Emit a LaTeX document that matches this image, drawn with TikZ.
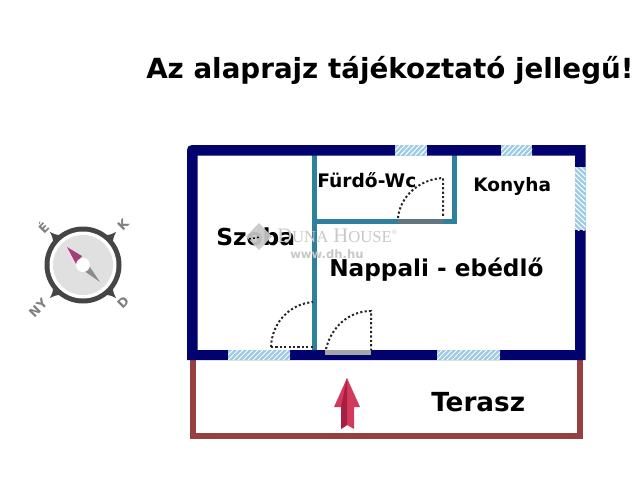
\documentclass[tikz,border=0pt]{standalone}
\usepackage{fontspec}
\setmainfont{DejaVu Sans}
\newfontfamily\duna{Liberation Serif}
\definecolor{wallblue}{HTML}{02026E}
\definecolor{inner}{HTML}{2F7F9E}
\definecolor{winblue}{HTML}{9CCBE3}
\definecolor{terr}{HTML}{96403F}
\definecolor{arrowred}{HTML}{D23A5C}
\definecolor{arrowdark}{HTML}{A81F44}
\definecolor{compd}{HTML}{454545}
\definecolor{compl}{HTML}{E0E0E0}
\definecolor{wm}{HTML}{C8C8C8}
\tikzset{
  wall/.style={fill=wallblue,draw=none},
  innerwall/.style={fill=inner,draw=none},
  win/.style={fill=winblue,draw=none},
  winhatch/.style={draw=white,line width=0.75pt},
  doorline/.style={draw=black!85,line width=1.5pt,dash pattern=on 1.6pt off 1.7pt},
  label/.style={font=\bfseries,text=black,inner sep=0pt,anchor=base west},
  complabel/.style={font=\bfseries\fontsize{9.5}{11}\selectfont,text=black!50,inner sep=0pt},
  wmtext/.style={text=wm,inner sep=0pt},
}
\newcommand{\winh}[4]{%
  \fill[win] (#1,#2) rectangle (#3,#4);
  \begin{scope}
    \clip (#1,#2) rectangle (#3,#4);
    \foreach \k in {-20,-15,...,80}{
      \draw[winhatch] ({#1+\k},#4) -- ({#1+\k+10},#2);
    }
  \end{scope}}
\newcommand{\winv}[4]{%
  \fill[win] (#1,#2) rectangle (#3,#4);
  \begin{scope}
    \clip (#1,#2) rectangle (#3,#4);
    \foreach \k in {-20,-15,...,90}{
      \draw[winhatch] (#1,{#2+\k}) -- (#3,{#2+\k+10});
    }
  \end{scope}}
\begin{document}
\begin{tikzpicture}[x=0.75pt,y=-0.75pt]
\useasboundingbox[fill=white] (0,0) rectangle (640,480);
% title
\node[label,font=\bfseries\fontsize{20.8}{24}\selectfont] (title) at (146,78) {Az alaprajz tájékoztató jellegű!};
% terrace
\fill[terr] (190,358) rectangle (195.5,438.5);
\fill[terr] (190,432.5) rectangle (582.5,438.5);
\fill[terr] (577,358) rectangle (582.5,438.5);
% inner walls
\fill[innerwall] (312,153) rectangle (316.5,352);
\fill[innerwall] (312,218.5) rectangle (457,223.5);
\fill[innerwall] (451.5,153) rectangle (456.5,223.5);
\fill[black!55,opacity=.75] (398,218.5) rectangle (443,223.5);
% outer walls
\fill[wall,even odd rule] (192,145) -- (585.5,145) -- (585.5,360) -- (187,360) -- (187,150) .. controls (187,147) and (189,145) .. (192,145) -- cycle
  (197.5,155.5) -- (197.5,350) -- (575,350) -- (575,155.5) -- cycle;
% windows
\winh{395}{145}{427}{155.5}
\winh{501}{145}{532}{155.5}
\winv{575}{167}{585.5}{230}
\winh{228}{350}{290}{360}
\winh{437}{350}{500}{360}
% doors
\fill[black!35] (325,350) rectangle (371,355);
\draw[doorline] (398,218) .. controls (400,196) and (420,179) .. (443,178) -- (443,218);
\draw[doorline] (271,347) .. controls (272,322) and (290,304) .. (313,302);
\draw[doorline] (271,347) -- (313,347);
\draw[doorline] (326,349) .. controls (331,328) and (348,311) .. (371,311) -- (371,350);
% labels and watermark
\node[label,font=\bfseries\fontsize{17.5}{21}\selectfont] (szoba) at (216,245) {Szoba};
\fill[wm,opacity=.92] (259,223) -- (272,236.5) -- (259,250) -- (246,236.5) -- cycle;
\draw[black,line width=1.1pt,dash pattern=on 1.4pt off 1.6pt] (249,239) -- (260,237);
\node[wmtext,anchor=base west,font=\duna\fontsize{15.5}{17}\selectfont] (wmname) at (277,242) {D{\fontsize{12.5}{14}\selectfont UNA} H{\fontsize{12.5}{14}\selectfont OUSE}\raisebox{6pt}{\fontsize{5}{6}\selectfont ®}};
\node[wmtext,anchor=base west,font=\bfseries\fontsize{8.7}{10}\selectfont] (wmurl) at (290,258) {www.dh.hu};
\node[label,font=\bfseries\fontsize{14}{17}\selectfont] (furdo) at (317,187) {Fürdő-Wc};
\node[label,font=\bfseries\fontsize{13.9}{17}\selectfont] (konyha) at (473,191) {Konyha};
\node[label,font=\bfseries\fontsize{17.4}{21}\selectfont] (nappali) at (329,276) {Nappali - ebédlő};
\node[label,font=\bfseries\fontsize{19.7}{23}\selectfont] (terasz) at (431,411) {Terasz};
% entrance arrow
\fill[arrowred] (347,378) -- (360,407) -- (354,407) -- (354,429) -- (347,425) -- (341,429) -- (341,407) -- (334,407) -- cycle;
\fill[arrowdark] (347,378) -- (341,407) -- (341,429) -- (347,425) -- cycle;
% compass
\begin{scope}[shift={(83,265)}]
  \foreach \r in {0,90,180,270}{
    \fill[compd,rotate=\r] (-33,-33) .. controls (-25,-29) and (-21,-28) .. (-14,-34) -- (-34,-14) .. controls (-28,-21) and (-29,-25) .. (-33,-33) -- cycle;
  }
  \fill[compd] (0,0) circle[radius=38.5];
  \fill[white] (0,0) circle[radius=33.5];
  \fill[compl] (0,0) circle[radius=30];
  \fill[black!45] (3,-4) -- (17,17) -- (-3,3) -- cycle;
  \fill[magenta!15] (-18,-20) -- (-2,-10) -- (-9,1) -- cycle;
  \fill[magenta!60!black] (-16,-18) -- (-1,-9) -- (-7,-1) -- cycle;
  \fill[white] (0,0) circle[radius=7];
\end{scope}
\node[complabel,rotate=45] (kk) at (123,225) {K};
\node[complabel,rotate=45] (ee) at (43,227) {É};
\node[complabel,rotate=45] (ny) at (38,308) {NY};
\node[complabel,rotate=45] (dd) at (123,303) {D};
\end{tikzpicture}
\end{document}
